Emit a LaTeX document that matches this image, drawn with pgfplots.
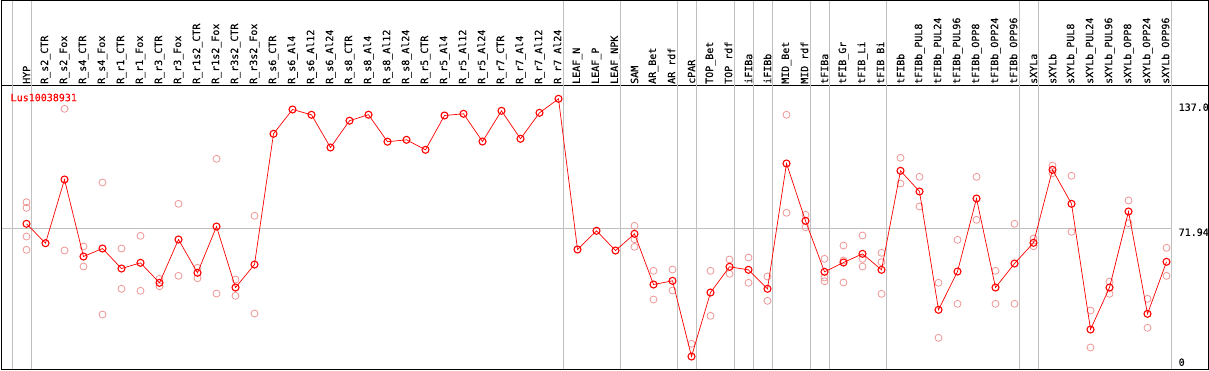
\documentclass[border=0pt]{standalone}
\usepackage{pgfplots}
\pgfplotsset{compat=1.18}
\usepackage{fontspec}
\setmainfont{DejaVu Sans Mono}[FakeBold=0.2]
\definecolor{gridgray}{RGB}{192,192,192}
\definecolor{faded}{RGB}{238,150,150}
\definecolor{mainred}{RGB}{255,0,0}
\begin{document}
\fontsize{10pt}{12pt}\selectfont
\begin{tikzpicture}
\begin{axis}[
  name=ax, scale only axis, width=1207pt, height=284pt,
  xmin=-1.3158, xmax=62.2105, ymin=1.21, ymax=143.67,
  xtick={0,...,60},
  xticklabels={HYP,R\_s2\_CTR,R\_s2\_Fox,R\_s4\_CTR,R\_s4\_Fox,R\_r1\_CTR,R\_r1\_Fox,R\_r3\_CTR,R\_r3\_Fox,R\_r1s2\_CTR,R\_r1s2\_Fox,R\_r3s2\_CTR,R\_r3s2\_Fox,R\_s6\_CTR,R\_s6\_Al4,R\_s6\_Al12,R\_s6\_Al24,R\_s8\_CTR,R\_s8\_Al4,R\_s8\_Al12,R\_s8\_Al24,R\_r5\_CTR,R\_r5\_Al4,R\_r5\_Al12,R\_r5\_Al24,R\_r7\_CTR,R\_r7\_Al4,R\_r7\_Al12,R\_r7\_Al24,LEAF\_N,LEAF\_P,LEAF\_NPK,SAM,AR\_Bet,AR\_rdf,cPAR,TOP\_Bet,TOP\_rdf,iFIBa,iFIBb,MID\_Bet,MID\_rdf,tFIBa,tFIB\_Gr,tFIB\_Li,tFIB\_Bi,tFIBb,tFIBb\_PUL8,tFIBb\_PUL24,tFIBb\_PUL96,tFIBb\_OPP8,tFIBb\_OPP24,tFIBb\_OPP96,sXYLa,sXYLb,sXYLb\_PUL8,sXYLb\_PUL24,sXYLb\_PUL96,sXYLb\_OPP8,sXYLb\_OPP24,sXYLb\_OPP96},
  xticklabel pos=upper,
  x tick label style={rotate=90, anchor=west, inner sep=1.5pt, font=\fontsize{10pt}{12pt}\selectfont},
  ytick=\empty, major tick length=0pt,
  axis line style={line width=0.8pt},
  clip mode=individual,
]
% group separators
\pgfplotsinvokeforeach{-0.76,0.24,28.24,31.24,34.24,35.24,37.24,38.24,39.24,41.24,42.24,45.24,52.24,53.24,60.24}{
  \draw[gridgray, line width=0.8pt] (axis cs:#1,1.21) -- ([yshift=85pt]axis cs:#1,143.67);
}
\draw[gridgray, line width=0.8pt] (axis cs:-1.3158,71.94) -- (axis cs:60.24,71.94);
% replicates
\addplot[only marks, mark=o, mark size=3.5pt, color=faded, mark options={line width=0.8pt}] coordinates {
(0,85.13) (0,82.32) (0,67.93) (0,61.26)
(2,131.98) (2,60.90)
(3,62.91) (3,52.88)
(4,95.02) (4,28.80)
(5,61.91) (5,41.69)
(6,68.28) (6,40.69)
(7,46.71) (7,43.00)
(8,84.33) (8,48.21)
(9,52.23) (9,47.01)
(10,106.90) (10,39.33)
(11,46.36) (11,38.18)
(12,78.31) (12,29.30)
(32,73.29) (32,66.57) (32,62.76)
(33,50.72) (33,36.32)
(34,51.37) (34,40.84)
(35,14.10) (35,1.06)
(36,50.72) (36,28.15)
(37,56.39) (37,49.22)
(38,57.39) (38,44.70)
(39,47.86) (39,35.67)
(40,128.98) (40,79.82)
(41,78.81) (41,72.59)
(42,56.74) (42,47.36) (42,45.50)
(43,63.41) (43,55.89) (43,44.85)
(44,68.43) (44,56.74) (44,52.88)
(45,59.75) (45,55.04) (45,39.18)
(46,107.41) (46,94.51)
(47,97.87) (47,82.98)
(48,44.70) (48,17.11)
(49,66.27) (49,34.17)
(50,97.87) (50,76.30)
(51,50.72) (51,34.17)
(52,74.30) (52,34.17)
(53,66.92) (53,63.06)
(54,103.54) (54,99.68)
(55,98.38) (55,70.28)
(56,30.81) (56,12.25)
(57,45.35) (57,39.18)
(58,85.99) (58,74.60)
(59,36.68) (59,22.13)
(60,62.26) (60,48.21)
};
% mean line
\addplot[color=mainred, line width=0.7pt, mark=o, mark size=3.5pt, mark options={line width=1.1pt, solid}] coordinates {
(0,74.30) (1,64.57) (2,96.52) (3,57.89) (4,61.91) (5,51.87) (6,54.73) (7,44.70) (8,66.42) (9,49.72)
(10,72.94) (11,42.34) (12,53.88) (13,119.44) (14,131.63) (15,128.98) (16,112.57) (17,126.02) (18,129.03) (19,115.48)
(20,116.43) (21,111.42) (22,128.62) (23,129.48) (24,115.58) (25,130.98) (26,116.94) (27,129.98) (28,137.00) (29,61.41)
(30,70.79) (31,60.90) (32,69.28) (33,43.85) (34,45.70) (35,7.73) (36,39.84) (37,52.73) (38,51.22) (39,41.69)
(40,104.55) (41,75.80) (42,50.22) (43,54.88) (44,59.25) (45,51.22) (46,100.88) (47,90.50) (48,31.16) (49,50.37)
(50,86.99) (51,42.34) (52,54.38) (53,64.77) (54,101.39) (55,84.33) (56,21.28) (57,42.34) (58,80.47) (59,29.15)
(60,55.24)
};
\node[anchor=west, inner sep=0pt, text=mainred] at ([xshift=9pt,yshift=-12pt]rel axis cs:0,1) {Lus10038931};
\node[anchor=west, inner sep=0pt] at (axis cs:60.63,132.79) {137.0};
\node[anchor=west, inner sep=0pt] at (axis cs:60.63,70.08) {71.94};
\node[anchor=west, inner sep=0pt] at (axis cs:60.63,4.87) {0};
\end{axis}
\draw[line width=0.8pt] (ax.south west) rectangle ([yshift=85pt]ax.north east);
\pgfresetboundingbox
\path ([xshift=-1.5pt,yshift=-0.5pt]ax.south west) rectangle ([xshift=0.5pt,yshift=85.5pt]ax.north east);
\end{tikzpicture}
\end{document}
